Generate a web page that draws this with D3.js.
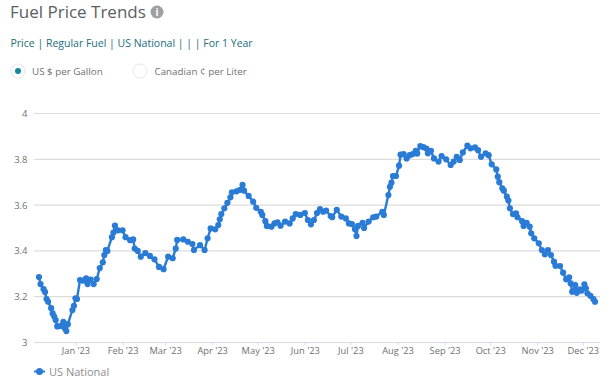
<!DOCTYPE html>
<html><head><meta charset="utf-8">
<script src="https://cdnjs.cloudflare.com/ajax/libs/d3/7.8.5/d3.min.js"></script>
<style>html,body{margin:0;padding:0;background:#fff}svg{display:block}text{font-family:"Open Sans",sans-serif}</style>
</head><body><svg id="c" width="613" height="384"></svg>
<script>
// Days since 2023-01-01 for each sampled point
const days = [-24,-23,-21,-20,-19,-18,-16,-15,-14,-13,-12,-10,-8,-7,-6,-5,-2,-1,0,1,3,5,7,8,10,12,14,16,18,19,20,21,24,25,26,28,31,33,36,38,39,41,43,46,49,52,55,58,61,64,66,67,71,74,77,78,82,85,87,89,92,94,95,96,98,100,102,103,106,108,110,111,114,117,119,122,123,125,126,129,131,133,135,138,141,143,145,148,151,153,155,157,159,161,163,165,168,169,172,175,178,180,182,184,185,186,189,190,193,196,198,202,203,206,207,208,209,211,213,214,216,218,220,222,224,225,227,229,231,232,234,236,239,241,244,247,249,251,253,255,258,260,263,265,267,270,272,274,277,278,279,281,282,284,285,286,288,290,291,294,295,297,299,300,302,305,307,309,311,313,315,316,319,321,323,325,326,327,329,330,332,333,335,336,337,339,341,342];
const prices = [3.286,3.255,3.233,3.22,3.19,3.178,3.15,3.127,3.113,3.098,3.07,3.072,3.09,3.062,3.05,3.08,3.142,3.16,3.193,3.19,3.273,3.27,3.28,3.255,3.275,3.255,3.277,3.325,3.35,3.382,3.404,3.40,3.46,3.48,3.51,3.49,3.49,3.46,3.447,3.45,3.41,3.40,3.375,3.39,3.378,3.363,3.33,3.32,3.375,3.368,3.41,3.448,3.45,3.44,3.43,3.404,3.425,3.404,3.455,3.498,3.494,3.513,3.538,3.561,3.586,3.61,3.634,3.656,3.66,3.666,3.688,3.663,3.64,3.615,3.588,3.571,3.557,3.53,3.509,3.506,3.52,3.525,3.51,3.528,3.52,3.542,3.561,3.557,3.565,3.535,3.516,3.535,3.565,3.583,3.571,3.576,3.552,3.547,3.579,3.55,3.542,3.52,3.517,3.494,3.465,3.509,3.523,3.50,3.528,3.547,3.55,3.571,3.557,3.644,3.68,3.698,3.727,3.727,3.772,3.82,3.823,3.804,3.818,3.823,3.837,3.825,3.858,3.853,3.847,3.826,3.837,3.804,3.79,3.814,3.80,3.775,3.79,3.811,3.797,3.83,3.86,3.848,3.852,3.84,3.811,3.826,3.818,3.778,3.756,3.724,3.70,3.673,3.663,3.637,3.62,3.586,3.561,3.564,3.547,3.53,3.509,3.523,3.506,3.477,3.455,3.433,3.404,3.385,3.404,3.382,3.353,3.335,3.334,3.305,3.276,3.285,3.258,3.222,3.251,3.217,3.232,3.226,3.254,3.237,3.215,3.204,3.189,3.178];
const yTicks = [3,3.2,3.4,3.6,3.8,4];
const monthTicks = ["2023-01-01","2023-02-01","2023-03-01","2023-04-01","2023-05-01","2023-06-01","2023-07-01","2023-08-01","2023-09-01","2023-10-01","2023-11-01","2023-12-01"];
const seriesName = "US National";
const titleText = "Fuel Price Trends";
const subtitleText = "Price | Regular Fuel | US National | | | For 1 Year";
const unitOptions = ["US $ per Gallon","Canadian ¢ per Liter"];

const svg = d3.select("#c");
const base = new Date(2023,0,1);
const toDate = d => d3.timeDay.offset(base,d);
const x = d3.scaleTime().domain([toDate(-24),toDate(342)]).range([39,595]);
const y = d3.scaleLinear().domain([3,4]).range([342.5,113.5]);
const gridL = 34, gridR = 600;

// grid
svg.append("g").selectAll("line").data(yTicks.slice(1)).join("line")
  .attr("x1",gridL).attr("x2",gridR).attr("y1",d=>y(d)).attr("y2",d=>y(d))
  .attr("stroke","#dcdcdc").attr("stroke-width",1.2);

// y labels
svg.append("g").selectAll("text").data(yTicks).join("text")
  .attr("x",27.5).attr("y",d=>y(d)+3.5).attr("text-anchor","end")
  .attr("font-size",9.5).attr("fill","#707070").text(d=>d3.format("~g")(d));

// x axis
const parse = d3.timeParse("%Y-%m-%d");
const xAxis = d3.axisBottom(x).tickValues(monthTicks.map(parse))
  .tickFormat(d=>d3.timeFormat("%b '%y")(d)).tickSize(3).tickPadding(2);
const gx = svg.append("g").attr("transform",`translate(0,${y(3)})`).call(xAxis);
gx.select(".domain").attr("d",`M${gridL},0H${gridR}`).attr("stroke","#d3daea").attr("stroke-width",1.2);
gx.selectAll(".tick line").attr("stroke","#d3daea");
gx.selectAll(".tick text").attr("font-size",9.3).attr("fill","#707070").style("font-family",'"Open Sans",sans-serif');

// series
const pts = days.map((d,i)=>({d:toDate(d),v:prices[i]}));
const blue = "#2a7bd6";
svg.append("path").datum(pts).attr("fill","none").attr("stroke",blue).attr("stroke-width",2.4)
  .attr("d",d3.line().x(p=>x(p.d)).y(p=>y(p.v)));
svg.append("g").selectAll("circle").data(pts).join("circle")
  .attr("cx",p=>x(p.d)).attr("cy",p=>y(p.v)).attr("r",3.1).attr("fill",blue);

// header
svg.append("text").attr("x",10).attr("y",18).attr("font-size",17).attr("fill","#5a5f63").text(titleText);
svg.append("circle").attr("cx",157).attr("cy",12).attr("r",6.5).attr("fill","#a0a0a0");
svg.append("text").attr("x",157).attr("y",16).attr("text-anchor","middle").attr("font-size",10).attr("font-weight",700).attr("fill","#fff").text("i");
svg.append("text").attr("x",10.5).attr("y",47).attr("font-size",10.5).attr("fill","#1d6d7d").text(subtitleText);

// radios
const rx = [18,140], tx = [32,154.5];
unitOptions.forEach((t,i)=>{
  svg.append("circle").attr("cx",rx[i]).attr("cy",71).attr("r",7).attr("fill","#fff").attr("stroke","#e6e6e6");
  if(i===0) svg.append("circle").attr("cx",rx[i]).attr("cy",71).attr("r",3).attr("fill","#12899b");
  svg.append("text").attr("x",tx[i]).attr("y",75).attr("font-size",9.8).attr("fill","#707070").text(t);
});

// legend
svg.append("line").attr("x1",34).attr("x2",45).attr("y1",371.5).attr("y2",371.5).attr("stroke",blue).attr("stroke-width",2);
svg.append("circle").attr("cx",39.5).attr("cy",371.5).attr("r",3.5).attr("fill",blue);
svg.append("text").attr("x",49).attr("y",375.5).attr("font-size",11).attr("fill","#8e8e8e").text(seriesName);
</script></body></html>
